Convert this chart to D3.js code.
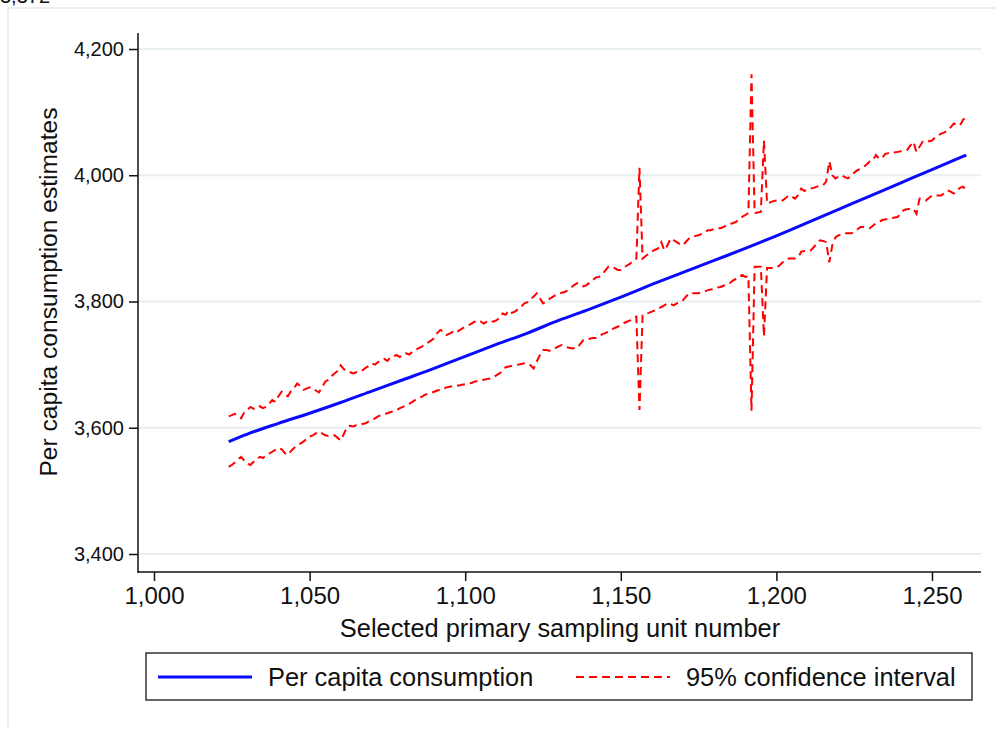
<!DOCTYPE html>
<html><head><meta charset="utf-8">
<script src="https://cdn.jsdelivr.net/npm/d3@7"></script>
<style>
html,body{margin:0;padding:0;background:#fff;}
svg{display:block;font-family:"Liberation Sans",Arial,sans-serif;}
</style></head>
<body><svg id="c" width="996" height="729"></svg>
<script>
// ---- data ----
const psuStart = 1024;
const psuEnd = 1261;
const meanPSU = [1024,1030,1040,1050,1060,1070,1080,1090,1100,1110,1120,1130,1140,1150,1160,1170,1180,1190,1200,1210,1220,1230,1240,1250,1261];
const meanValues = [3578,3590,3607,3623,3640,3658,3676,3694,3713,3732,3750,3770,3788,3807,3827,3846,3865,3884,3904,3925,3946,3967,3988,4009,4032];
const upperValues = [
3618,3620,3622,3619,3615,3624,3628,3633,3630,3634,
3634,3631,3633,3638,3644,3641,3650,3657,3652,3650,
3658,3663,3670,3666,3660,3662,3664,3663,3659,3656,
3664,3673,3676,3682,3686,3690,3699,3693,3689,3688,
3686,3688,3690,3691,3695,3698,3702,3700,3704,3707,
3709,3706,3712,3714,3715,3712,3716,3718,3716,3720,
3723,3726,3728,3732,3735,3738,3742,3750,3755,3752,
3747,3749,3752,3750,3754,3757,3760,3762,3765,3768,
3766,3768,3765,3768,3770,3768,3770,3774,3781,3779,
3786,3782,3784,3788,3792,3797,3799,3804,3808,3813,
3805,3797,3800,3804,3807,3810,3812,3814,3815,3818,
3822,3826,3829,3827,3824,3826,3830,3834,3838,3839,
3843,3849,3855,3853,3853,3850,3850,3854,3857,3860,
3865,3868,4012,3868,3872,3876,3879,3882,3884,3894,
3881,3889,3900,3897,3894,3891,3889,3895,3900,3902,
3904,3905,3907,3910,3913,3913,3915,3916,3916,3918,
3921,3923,3924,3926,3930,3934,3937,3940,4160,3940,
3941,3942,4055,3955,3957,3959,3960,3961,3960,3964,
3968,3966,3963,3969,3979,3975,3978,3979,3980,3982,
3983,3984,3990,4022,4000,3995,3998,4000,3997,3995,
3999,4004,4008,4010,4013,4017,4022,4024,4032,4026,
4028,4034,4035,4037,4036,4037,4038,4039,4040,4047,
4053,4037,4045,4053,4052,4054,4055,4060,4063,4066,
4068,4071,4076,4082,4080,4079,4088,4092];
const lowerValues = [
3538,3541,3545,3550,3554,3548,3543,3541,3546,3550,
3554,3552,3556,3559,3562,3565,3568,3566,3560,3557,
3563,3568,3572,3575,3578,3582,3586,3588,3591,3594,
3591,3588,3587,3588,3588,3584,3580,3590,3601,3603,
3602,3604,3605,3606,3607,3610,3612,3615,3618,3620,
3622,3623,3625,3626,3628,3631,3633,3636,3638,3641,
3644,3647,3649,3652,3654,3655,3657,3659,3660,3662,
3664,3665,3666,3667,3667,3668,3669,3670,3671,3673,
3674,3675,3676,3677,3678,3680,3683,3686,3690,3696,
3697,3698,3699,3700,3701,3702,3702,3699,3694,3705,
3715,3723,3723,3722,3723,3726,3729,3731,3729,3727,
3726,3726,3726,3733,3739,3740,3741,3742,3742,3745,
3748,3750,3752,3755,3758,3760,3763,3766,3768,3770,
3774,3776,3628,3778,3781,3782,3784,3786,3789,3791,
3794,3797,3796,3794,3797,3800,3802,3808,3813,3813,
3813,3813,3815,3816,3818,3819,3820,3822,3823,3825,
3827,3829,3833,3836,3839,3842,3839,3840,3627,3855,
3855,3855,3745,3853,3853,3853,3854,3857,3862,3865,
3868,3868,3868,3870,3879,3880,3880,3881,3886,3892,
3897,3896,3894,3862,3890,3902,3905,3906,3908,3908,
3908,3910,3914,3918,3918,3917,3916,3920,3924,3926,
3929,3930,3931,3932,3933,3934,3940,3945,3946,3947,
3947,3939,3963,3962,3960,3964,3968,3968,3968,3968,
3972,3976,3974,3971,3976,3980,3982,3976];
const yTicks = [3400,3600,3800,4000,4200];
const xTicks = [1000,1050,1100,1150,1200,1250];
const xTitle = "Selected primary sampling unit number";
const yTitle = "Per capita consumption estimates";
const legendLabels = ["Per capita consumption","95% confidence interval"];
const cutText = "3,372";

// ---- drawing ----
const svg = d3.select("#c");
const W = 996, H = 729;
const plot = {left:138, right:981, top:33, bottom:572};
const x = d3.scaleLinear().domain([1000,1250]).range([154,932]);
const y = d3.scaleLinear().domain([3400,4200]).range([554,49]);
const fmt = d3.format(",");

// outer frame remnants
svg.append("line").attr("x1",8).attr("x2",W).attr("y1",8).attr("y2",8).attr("stroke","#e3eaec").attr("stroke-width",1.5);
svg.append("line").attr("x1",8).attr("x2",8).attr("y1",8).attr("y2",H).attr("stroke","#e3eaec").attr("stroke-width",1.5);
svg.append("text").attr("x",0).attr("y",3).attr("font-size",20).attr("fill","#111").text(cutText);

// gridlines
svg.append("g").selectAll("line").data(yTicks).join("line")
  .attr("x1",plot.left).attr("x2",plot.right)
  .attr("y1",d=>y(d)).attr("y2",d=>y(d))
  .attr("stroke","#e6eef0").attr("stroke-width",2);

// axes
const yAxis = svg.append("g").attr("transform",`translate(${plot.left},0)`)
  .call(d3.axisLeft(y).tickValues(yTicks).tickFormat(fmt).tickSize(9).tickPadding(5));
yAxis.select(".domain").remove();
yAxis.selectAll("text").attr("font-size",20).attr("fill","#111").attr("font-family","Liberation Sans, Arial, sans-serif");
yAxis.selectAll("line").attr("stroke","#111").attr("stroke-width",1.5);
svg.append("line").attr("x1",plot.left).attr("x2",plot.left).attr("y1",plot.top).attr("y2",plot.bottom+0.75)
  .attr("stroke","#111").attr("stroke-width",1.5);

const xAxis = svg.append("g").attr("transform",`translate(0,${plot.bottom})`)
  .call(d3.axisBottom(x).tickValues(xTicks).tickFormat(fmt).tickSize(9).tickPadding(6));
xAxis.select(".domain").remove();
xAxis.selectAll("text").attr("font-size",24).attr("fill","#111").attr("font-family","Liberation Sans, Arial, sans-serif");
xAxis.selectAll("line").attr("stroke","#111").attr("stroke-width",1.5);
svg.append("line").attr("x1",plot.left-0.75).attr("x2",plot.right).attr("y1",plot.bottom).attr("y2",plot.bottom)
  .attr("stroke","#111").attr("stroke-width",1.5);

// titles
svg.append("text").attr("x",560).attr("y",637).attr("text-anchor","middle").attr("font-size",25.4).attr("fill","#111").text(xTitle);
svg.append("text").attr("transform","translate(57,292) rotate(-90)").attr("text-anchor","middle").attr("font-size",24.6).attr("fill","#111").text(yTitle);

// lines
const psu = d3.range(psuStart, psuEnd+1);
const line = d3.line().x(d=>x(d[0])).y(d=>y(d[1]));
const redStyle = sel => sel.attr("fill","none").attr("stroke","#ff0000").attr("stroke-width",2).attr("stroke-dasharray","8,5");
svg.append("path").datum(psu.map((p,i)=>[p,upperValues[i]])).attr("d",line).call(redStyle);
svg.append("path").datum(psu.map((p,i)=>[p,lowerValues[i]])).attr("d",line).call(redStyle);
svg.append("path").datum(meanPSU.map((p,i)=>[p,meanValues[i]])).attr("d",d3.line().x(d=>x(d[0])).y(d=>y(d[1])).curve(d3.curveMonotoneX))
  .attr("fill","none").attr("stroke","#0a0aff").attr("stroke-width",3);

// legend
const lg = svg.append("g");
lg.append("rect").attr("x",146).attr("y",653).attr("width",826).attr("height",47).attr("fill","#fff").attr("stroke","#333").attr("stroke-width",1.5);
lg.append("line").attr("x1",158).attr("x2",252).attr("y1",677).attr("y2",677).attr("stroke","#0a0aff").attr("stroke-width",3);
lg.append("text").attr("x",268).attr("y",686).attr("font-size",25.4).attr("fill","#111").text(legendLabels[0]);
lg.append("line").attr("x1",576).attr("x2",670).attr("y1",677).attr("y2",677).call(redStyle);
lg.append("text").attr("x",686).attr("y",686).attr("font-size",25.4).attr("fill","#111").text(legendLabels[1]);
</script></body></html>
